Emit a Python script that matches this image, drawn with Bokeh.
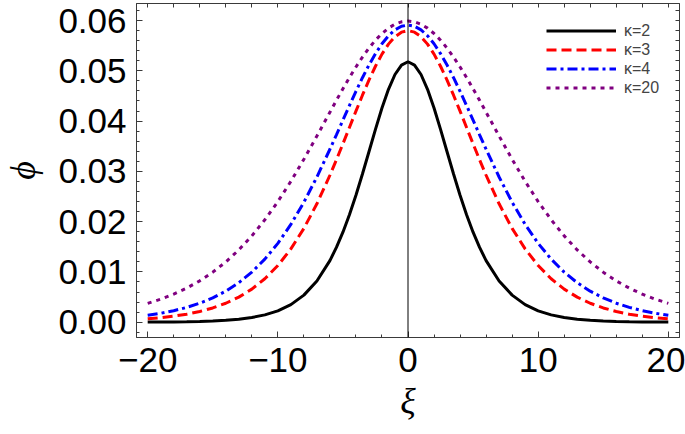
from bokeh.plotting import figure
from bokeh.models import (Range1d, SingleIntervalTicker, FixedTicker, LinearAxis, Span,
                          Legend, LegendItem, PrintfTickFormatter)
from bokeh.embed import file_html
from bokeh.resources import INLINE

# ---- data ----
xi = [-20, -19, -18, -17, -16, -15, -14, -13, -12, -11, -10, -9, -8, -7,
      -6, -5.5, -5, -4.5, -4, -3.5, -3, -2.5, -2, -1.5, -1, -0.5, 0,
      0.5, 1, 1.5, 2, 2.5, 3, 3.5, 4, 4.5, 5, 5.5, 6,
      7, 8, 9, 10, 11, 12, 13, 14, 15, 16, 17, 18, 19, 20]

phi_k2 = [0.00003, 0.00004, 0.00006, 0.00010, 0.00016, 0.00024, 0.00038, 0.00060, 0.00093, 0.00146,
          0.00226, 0.00350, 0.00539, 0.00819,
          0.01226, 0.01488, 0.01791, 0.02138, 0.02526, 0.02948, 0.03391, 0.03836, 0.04260, 0.04633,
          0.04927, 0.05115, 0.05180, 0.05115, 0.04927, 0.04633, 0.04260, 0.03836, 0.03391, 0.02948,
          0.02526, 0.02138, 0.01791, 0.01488, 0.01226,
          0.00819, 0.00539, 0.00350, 0.00226, 0.00146, 0.00093, 0.00060, 0.00038, 0.00024, 0.00016,
          0.00010, 0.00006, 0.00004, 0.00003]

phi_k3 = [0.00067, 0.00090, 0.00120, 0.00160, 0.00213, 0.00284, 0.00377, 0.00499, 0.00658, 0.00864,
          0.01127, 0.01458, 0.01866, 0.02355,
          0.02923, 0.03230, 0.03549, 0.03874, 0.04198, 0.04515, 0.04816, 0.05091, 0.05332, 0.05531,
          0.05678, 0.05769, 0.05800, 0.05769, 0.05678, 0.05531, 0.05332, 0.05091, 0.04816, 0.04515,
          0.04198, 0.03874, 0.03549, 0.03230, 0.02923,
          0.02355, 0.01866, 0.01458, 0.01127, 0.00864, 0.00658, 0.00499, 0.00377, 0.00284, 0.00213,
          0.00160, 0.00120, 0.00090, 0.00067]

phi_k4 = [0.00139, 0.00178, 0.00229, 0.00295, 0.00378, 0.00484, 0.00618, 0.00786, 0.00996, 0.01254,
          0.01569, 0.01946, 0.02386, 0.02888,
          0.03440, 0.03728, 0.04019, 0.04309, 0.04593, 0.04863, 0.05115, 0.05342, 0.05538, 0.05697,
          0.05814, 0.05886, 0.05910, 0.05886, 0.05814, 0.05697, 0.05538, 0.05342, 0.05115, 0.04863,
          0.04593, 0.04309, 0.04019, 0.03728, 0.03440,
          0.02888, 0.02386, 0.01946, 0.01569, 0.01254, 0.00996, 0.00786, 0.00618, 0.00484, 0.00378,
          0.00295, 0.00229, 0.00178, 0.00139]

phi_k20 = [0.00376, 0.00458, 0.00558, 0.00678, 0.00823, 0.00995, 0.01199, 0.01438, 0.01717, 0.02037,
           0.02399, 0.02802, 0.03240, 0.03703,
           0.04177, 0.04413, 0.04643, 0.04866, 0.05076, 0.05273, 0.05452, 0.05609, 0.05742, 0.05849,
           0.05927, 0.05974, 0.05990, 0.05974, 0.05927, 0.05849, 0.05742, 0.05609, 0.05452, 0.05273,
           0.05076, 0.04866, 0.04643, 0.04413, 0.04177,
           0.03703, 0.03240, 0.02802, 0.02399, 0.02037, 0.01717, 0.01438, 0.01199, 0.00995, 0.00823,
           0.00678, 0.00558, 0.00458, 0.00376]

series_labels = ["κ=2", "κ=3", "κ=4", "κ=20"]
xtick_vals = [-20, -10, 0, 10, 20]
xtick_labels = ["−20", "−10", "0", "10", "20"]
x_label = "ξ"
y_label = "ϕ"

FRAME = "#3a3a3a"
TICK_FONT = "Liberation Sans"

p = figure(width=685, height=434, output_backend="svg", toolbar_location=None,
           x_range=Range1d(-20.86, 20.86), y_range=Range1d(-0.00304, 0.06339),
           min_border_left=132, min_border_right=6, min_border_top=3, min_border_bottom=97)
p.grid.visible = False
p.outline_line_color = FRAME
p.outline_line_width = 1
p.background_fill_color = "white"
p.border_fill_color = "white"


def style_axis(ax, ticker):
    ax.ticker = ticker
    ax.axis_line_color = FRAME
    ax.major_tick_line_color = FRAME
    ax.minor_tick_line_color = FRAME
    ax.major_tick_in = 6
    ax.major_tick_out = 0
    ax.minor_tick_in = 3
    ax.minor_tick_out = 0


xa = p.xaxis[0]
ya = p.yaxis[0]
style_axis(xa, SingleIntervalTicker(interval=10, num_minor_ticks=5))
style_axis(ya, SingleIntervalTicker(interval=0.01, num_minor_ticks=5))
xa.major_label_overrides = {v: s for v, s in zip(xtick_vals, xtick_labels)}
ya.formatter = PrintfTickFormatter(format="%.2f")
for ax in (xa, ya):
    ax.major_label_text_font = TICK_FONT
    ax.major_label_text_font_size = "35px"
    ax.major_label_text_color = "black"
    ax.axis_label_text_font = "Liberation Serif"
    ax.axis_label_text_font_style = "italic"
    ax.axis_label_text_font_size = "36px"
    ax.axis_label_text_color = "black"
xa.major_label_standoff = 10
ya.major_label_standoff = 10
xa.axis_label = x_label
ya.axis_label = y_label
xa.axis_label_standoff = 6
ya.axis_label_standoff = 12

# mirrored frame ticks (top / right), without labels
top = LinearAxis()
style_axis(top, FixedTicker(ticks=[], minor_ticks=list(range(-20, 21, 2))))
top.minor_tick_in = 4
right = LinearAxis()
style_axis(right, FixedTicker(ticks=[], minor_ticks=[k / 500 for k in range(-1, 32)]))
right.minor_tick_in = 4
p.add_layout(top, "above")
p.add_layout(right, "right")

p.add_layout(Span(location=0, dimension="height", line_color="black", line_width=1))

r1 = p.line(xi, phi_k2, line_color="black", line_width=3)
r2 = p.line(xi, phi_k3, line_color="#ff0000", line_width=3, line_dash="10 5")
r3 = p.line(xi, phi_k4, line_color="#0000ff", line_width=3, line_dash="10 4 3 4")
r4 = p.line(xi, phi_k20, line_color="#800080", line_width=3, line_dash="4 5")

legend = Legend(items=[LegendItem(label=series_labels[0], renderers=[r1]),
                       LegendItem(label=series_labels[1], renderers=[r2]),
                       LegendItem(label=series_labels[2], renderers=[r3]),
                       LegendItem(label=series_labels[3], renderers=[r4])],
                location=(410, 240))
legend.border_line_color = None
legend.background_fill_alpha = 0
legend.padding = 0
legend.margin = 0
legend.spacing = 0
legend.label_height = 19
legend.glyph_height = 19
legend.glyph_width = 70
legend.label_standoff = 8
legend.label_text_font = TICK_FONT
legend.label_text_font_size = "16px"
p.add_layout(legend)

open("out.html", "w").write(file_html(p, INLINE, "plot"))
